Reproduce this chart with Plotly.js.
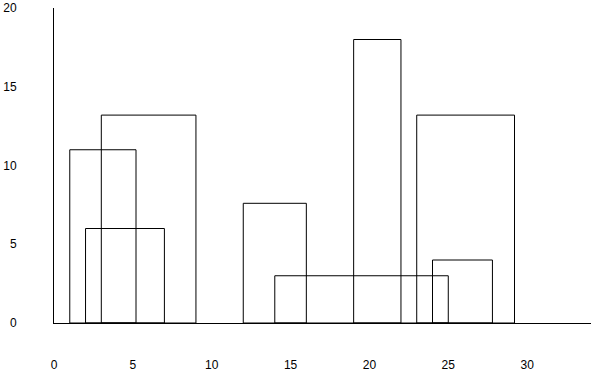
<!DOCTYPE html>
<html>
<head>
<meta charset="utf-8">
<script src="https://cdn.plot.ly/plotly-3.0.1.min.js"></script>
<style>
  html, body { margin: 0; padding: 0; background: #fff; }
  #chart { width: 591px; height: 372px; }
</style>
</head>
<body>
<div id="chart"></div>
<script>
// Rectangles: left edge, width, height
const leftEdges = [1, 2, 3, 12, 14, 19, 23, 24];
const widths    = [4.2, 5, 6, 4, 11, 3, 6.2, 3.8];
const heights   = [11, 6, 13.2, 7.6, 3, 18, 13.2, 4];
const xTicks = [0, 5, 10, 15, 20, 25, 30];
const yTicks = [0, 5, 10, 15, 20];

const trace = {
  type: 'bar',
  x: leftEdges,
  y: heights,
  width: widths,
  offset: 0,
  base: 0,
  marker: { color: 'rgba(0,0,0,0)', line: { color: '#000', width: 1 } },
  hoverinfo: 'none'
};

const layout = {
  width: 591, height: 372,
  margin: { l: 54, r: 0, t: 8, b: 49, pad: 0 },
  paper_bgcolor: '#fff', plot_bgcolor: '#fff',
  showlegend: false,
  barmode: 'overlay',
  font: { family: 'Liberation Sans, Arial, sans-serif', size: 12, color: '#000' },
  xaxis: {
    range: [0, 34.05], tickvals: xTicks, ticktext: xTicks.map(String),
    showgrid: false, zeroline: false, showline: true, linecolor: '#000', linewidth: 1,
    ticks: '', ticklabelstandoff: 31, fixedrange: true
  },
  yaxis: {
    range: [0, 20], tickvals: yTicks, ticktext: yTicks.map(String),
    showgrid: false, zeroline: false, showline: true, linecolor: '#000', linewidth: 1,
    ticks: '', ticklabelstandoff: 34, fixedrange: true
  }
};

Plotly.newPlot('chart', [trace], layout, { staticPlot: true, displayModeBar: false });
</script>
</body>
</html>
